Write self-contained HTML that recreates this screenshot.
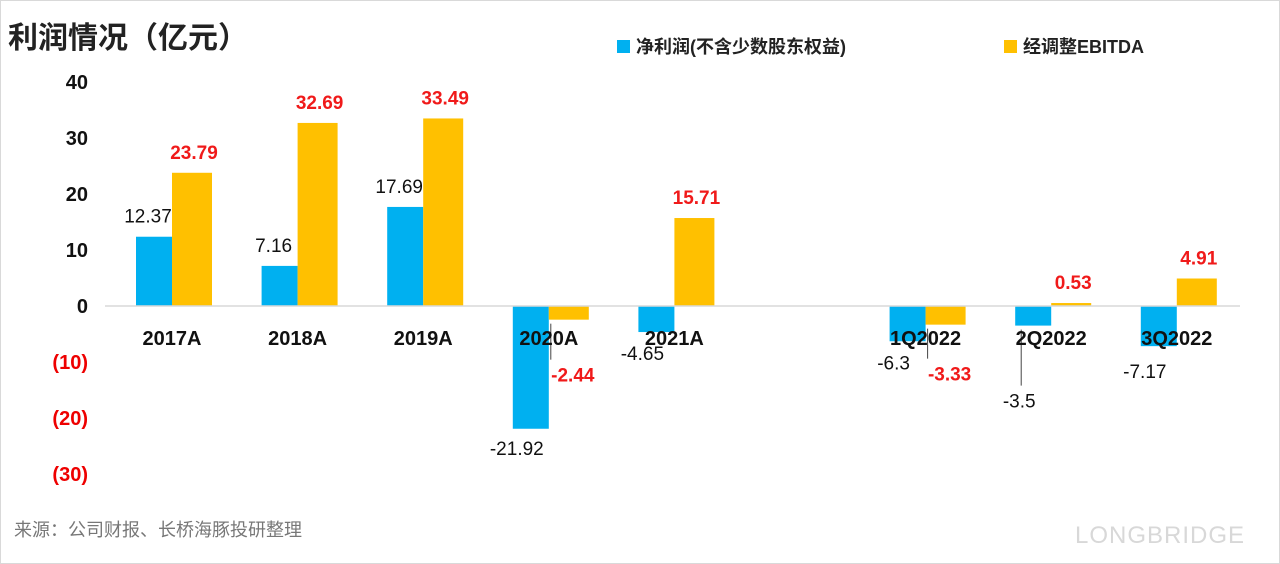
<!DOCTYPE html>
<html><head><meta charset="utf-8">
<style>
body{margin:0;background:#fff;}
#wrap{position:relative;width:1280px;height:564px;overflow:hidden;font-family:"Liberation Sans","Noto Sans CJK SC",sans-serif;}
</style></head>
<body>
<div id="wrap">
<svg id="chart" width="1280" height="564" xmlns="http://www.w3.org/2000/svg">
<rect x="0.5" y="0.5" width="1279" height="563" fill="#fff" stroke="#d9d9d9"/>
<text x="8" y="48" font-size="30" font-weight="bold" fill="#222" font-family="Liberation Sans,Noto Sans CJK SC,sans-serif">利润情况（亿元）</text>
<rect x="617" y="40" width="13" height="13" fill="#00b0f0"/>
<text x="636" y="53" font-size="18" font-weight="bold" fill="#222" font-family="Liberation Sans,Noto Sans CJK SC,sans-serif">净利润(不含少数股东权益)</text>
<rect x="1004" y="40" width="13" height="13" fill="#ffc000"/>
<text x="1023" y="53" font-size="18" font-weight="bold" fill="#222" font-family="Liberation Sans,Noto Sans CJK SC,sans-serif">经调整EBITDA</text>
<text x="14" y="536" font-size="18" fill="#777" font-family="Liberation Sans,Noto Sans CJK SC,sans-serif">来源：公司财报、长桥海豚投研整理</text>
<text x="1075" y="543" font-size="24" fill="#d8d8d8" letter-spacing="1">LONGBRIDGE</text>
<g id="plot"></g>
</svg>
</div>
<script>
const categories=["2017A","2018A","2019A","2020A","2021A","","1Q2022","2Q2022","3Q2022"];
const netProfit=[12.37,7.16,17.69,-21.92,-4.65,null,-6.3,-3.5,-7.17];
const ebitda=[23.79,32.69,33.49,-2.44,15.71,null,-3.33,0.53,4.91];
const yTicks=[40,30,20,10,0,-10,-20,-30];
const yTickLabels=["40","30","20","10","0","(10)","(20)","(30)"];

const NS="http://www.w3.org/2000/svg";
const plot=document.getElementById('plot');
function y(v){return 306-v*5.6;}
function xc(i){return 172+i*125.6;}
function el(tag,attrs,txt){const e=document.createElementNS(NS,tag);for(const k in attrs)e.setAttribute(k,attrs[k]);if(txt!==undefined)e.textContent=txt;plot.appendChild(e);return e;}

yTicks.forEach((t,i)=>{
  const e=el('text',{x:88,y:y(t)+7,'font-size':20,'font-weight':'bold','text-anchor':'end',fill:t<0?'#e00':'#111'},yTickLabels[i]);
  
  
});
const bw=36;
const negNetOffsets={3:26,4:28,6:28,7:82,8:32};
categories.forEach((c,i)=>{
  if(netProfit[i]===null)return;
  const cx=xc(i);
  const n=netProfit[i], b=ebitda[i];
  const r1=el('rect',{x:cx-bw,y:Math.min(y(n),y(0)),width:bw,height:Math.abs(y(n)-y(0)),fill:'#00b0f0'});
  
  
  const r2=el('rect',{x:cx,y:Math.min(y(b),y(0)),width:bw+4,height:Math.abs(y(b)-y(0)),fill:'#ffc000'});
  
  
  let nx=cx-bw/2-6, ny=n>=0?y(n)-14:y(n)+(negNetOffsets[i]||28);
  if(n<0){nx=cx-bw/2-14;}
  if(i===7){
    const ln=el('line',{x1:cx-bw/2-12,y1:y(n)+4,x2:cx-bw/2-12,y2:ny-22,stroke:'#444','stroke-width':1});
    
    
  }
  const t1=el('text',{x:nx,y:ny,'font-size':19,'text-anchor':'middle',fill:'#111'},String(n));
  
  
  let ex=cx+22, ey=b>=0?y(b)-14:y(b)+30;
  if(b<0){ex=cx+24;ey=y(b)+(i===3?62:56);
    const ln=el('line',{x1:cx+2,y1:y(b)+4,x2:cx+2,y2:ey-22,stroke:'#444','stroke-width':1});
    
    }
  const t2=el('text',{x:ex,y:ey,'font-size':19,'font-weight':'bold','text-anchor':'middle',fill:'#f01a1a'},String(b));
  
  
});
const ax=el('line',{x1:105,y1:y(0),x2:1240,y2:y(0),stroke:'#d9d9d9','stroke-width':1.5});


categories.forEach((c,i)=>{
  if(!c)return;
  const t=el('text',{x:xc(i),y:345,'font-size':20,'font-weight':'bold','text-anchor':'middle',fill:'#111'},c);
  
  
});
</script>
</body></html>
